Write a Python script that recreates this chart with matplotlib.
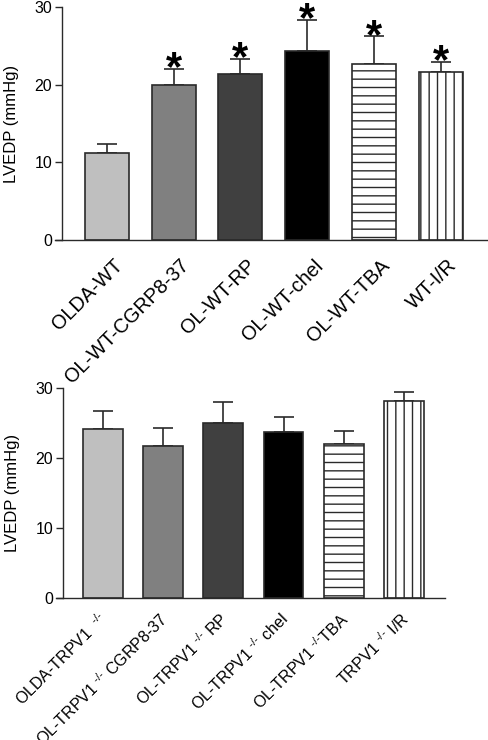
import matplotlib
matplotlib.use("Agg")
import matplotlib.pyplot as plt
import matplotlib.transforms as mtransforms

plt.rcParams['font.family'] = ['Liberation Sans', 'DejaVu Sans']
plt.rcParams['mathtext.fontset'] = 'custom'
plt.rcParams['mathtext.rm'] = 'Liberation Sans'
plt.rcParams['mathtext.it'] = 'Liberation Sans'
plt.rcParams['hatch.linewidth'] = 1.0

# Top panel (wild type)
top_labels = ['OLDA-WT', 'OL-WT-CGRP8-37', 'OL-WT-RP', 'OL-WT-chel', 'OL-WT-TBA', 'WT-I/R']
top_means = [11.2, 19.9, 21.4, 24.3, 22.6, 21.6]
top_sem = [1.2, 2.1, 1.9, 4.0, 3.6, 1.3]
top_sig = [False, True, True, True, True, True]

# Bottom panel (TRPV1 knockout)
ko = r'$^{\text{-/-}}$'
bot_labels = ['OLDA-TRPV1  ' + ko, 'OL-TRPV1 ' + ko + ' CGRP8-37', 'OL-TRPV1 ' + ko + ' RP',
              'OL-TRPV1 ' + ko + ' chel', 'OL-TRPV1 ' + ko + 'TBA', 'TRPV1 ' + ko + ' I/R']
bot_means = [24.2, 21.8, 25.0, 23.7, 22.1, 28.2]
bot_sem = [2.6, 2.5, 3.0, 2.2, 1.8, 1.2]
bot_sig = [False] * 6

fills = ['#bfbfbf', '#808080', '#404040', '#000000', 'white', 'white']
hatches = [None, None, None, None, '--', '||']
edge = '#2a2a2a'


def panel(ax, labels, means, sem, sig, xlim, lab_size, lab_pad, lab_dx):
    x = list(range(len(means)))
    for i in x:
        ax.bar(i, means[i], width=0.66, color=fills[i], edgecolor=edge,
               linewidth=1.2, hatch=hatches[i], zorder=2)
    # only the upper half of the error bar is shown
    ax.errorbar(x, means, yerr=[[0] * len(sem), sem], fmt='none', ecolor=edge,
                elinewidth=1.2, capsize=7.5, capthick=1.2, zorder=1)
    for i in x:
        if sig[i]:
            ax.annotate('*', xy=(i, means[i] + sem[i]), xytext=(0, -8),
                        textcoords='offset points', ha='center', va='baseline',
                        fontsize=30, fontweight='bold', annotation_clip=False)
    ax.set_xlim(*xlim)
    ax.set_ylim(0, 30)
    ax.set_yticks([0, 10, 20, 30])
    ax.tick_params(axis='y', length=5, width=1, color=edge, labelsize=11.5, pad=2)
    ax.tick_params(axis='x', length=0, pad=lab_pad)
    ax.set_xticks(x)
    ax.set_xticklabels(labels, rotation=45, ha='right', rotation_mode='anchor', fontsize=lab_size)
    shift = mtransforms.ScaledTranslation(lab_dx / 100, 0, ax.figure.dpi_scale_trans)
    for t in ax.get_xticklabels():
        t.set_transform(t.get_transform() + shift)
    for s in ['top', 'right', 'bottom']:
        ax.spines[s].set_visible(False)
    ax.spines['left'].set_color(edge)
    ax.spines['left'].set_linewidth(1.0)
    ax.axhline(0, xmin=-0.017, xmax=1, color=edge, lw=1.0, clip_on=False, zorder=3)
    ax.set_ylabel('LVEDP (mmHg)', fontsize=12, labelpad=11)


fig = plt.figure(figsize=(4.88, 7.40), dpi=100)
ax1 = fig.add_axes([0.127, 0.6757, 0.871, 0.3149])
ax2 = fig.add_axes([0.129, 0.1915, 0.783, 0.2838])

panel(ax1, top_labels, top_means, top_sem, top_sig, (-0.67, 5.69), 14.3, 11.5, 6)
panel(ax2, bot_labels, bot_means, bot_sem, bot_sig, (-0.66, 5.68), 11.5, 8, -5)

fig.savefig('out.png', dpi=100)
